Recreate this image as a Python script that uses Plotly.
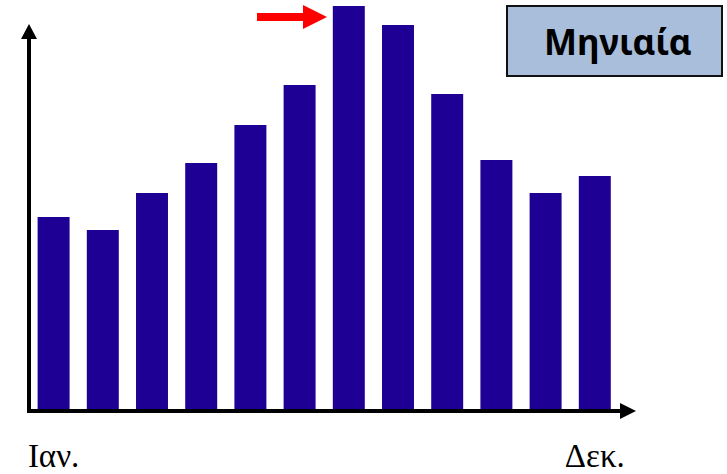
import plotly.graph_objects as go

# Monthly values (arbitrary units), January to December
months = ["Ιαν.", "Φεβ.", "Μαρ.", "Απρ.", "Μάι.", "Ιούν.",
          "Ιούλ.", "Αύγ.", "Σεπ.", "Οκτ.", "Νοέ.", "Δεκ."]
values = [194, 181, 218, 248, 286, 326, 405, 386, 317, 251, 218, 235]
tick_labels = ["Ιαν.", "Δεκ."]
title_text = "Μηνιαία"

W, H = 727, 474
L, T, PW, PH = 29, 0, 607, 411  # plot area in pixels


def px(x):
    return (x - L) / PW


def py(y):
    return (T + PH - y) / PH


fig = go.Figure(go.Bar(
    x=months, y=values,
    marker=dict(color="#1F0094", line=dict(width=0)),
    width=0.65,
))

shapes = []
# y axis with arrowhead
shapes.append(dict(type="line", xref="paper", yref="paper",
                   x0=px(29), y0=py(413), x1=px(29), y1=py(36),
                   line=dict(color="black", width=4)))
shapes.append(dict(type="path", xref="paper", yref="paper",
                   path=f"M {px(21)} {py(39)} L {px(37)} {py(39)} L {px(29)} {py(24)} Z",
                   fillcolor="black", line=dict(width=0)))
# x axis with arrowhead
shapes.append(dict(type="line", xref="paper", yref="paper",
                   x0=px(27), y0=py(411), x1=px(622), y1=py(411),
                   line=dict(color="black", width=4)))
shapes.append(dict(type="path", xref="paper", yref="paper",
                   path=f"M {px(620)} {py(403)} L {px(620)} {py(419)} L {px(636)} {py(411)} Z",
                   fillcolor="black", line=dict(width=0)))
# red pointer towards the peak month
shapes.append(dict(type="rect", xref="paper", yref="paper",
                   x0=px(257), y0=py(21), x1=px(304), y1=py(13),
                   fillcolor="#FF0000", line=dict(width=0)))
shapes.append(dict(type="path", xref="paper", yref="paper",
                   path=f"M {px(303)} {py(5)} L {px(303)} {py(29)} L {px(327)} {py(17)} Z",
                   fillcolor="#FF0000", line=dict(width=0)))
# title box
shapes.append(dict(type="rect", xref="paper", yref="paper",
                   x0=px(507), y0=py(76), x1=px(722), y1=py(6),
                   fillcolor="#A8BEDA", line=dict(color="#111111", width=2)))

fig.update_layout(
    width=W, height=H,
    margin=dict(l=L, r=W - L - PW, t=T, b=H - T - PH),
    paper_bgcolor="white", plot_bgcolor="white",
    showlegend=False,
    bargap=0.35,
    shapes=shapes,
    annotations=[dict(
        text=f"<b>{title_text}</b>", xref="paper", yref="paper",
        x=px(618), y=py(42), xanchor="center", yanchor="middle",
        showarrow=False,
        font=dict(family="Noto Sans", size=35, color="black"),
    )],
    xaxis=dict(
        range=[-0.5, -0.5 + PW / 49.2],
        showline=False, showgrid=False, zeroline=False,
        ticks="", tickmode="array", tickvals=tick_labels, ticktext=tick_labels,
        tickfont=dict(family="Liberation Serif", size=33, color="black"),
        ticklabelstandoff=22,
        automargin=False,
        fixedrange=True,
    ),
    yaxis=dict(
        range=[0, PH], showline=False, showgrid=False, zeroline=False,
        showticklabels=False, ticks="", fixedrange=True, automargin=False,
    ),
)

fig.write_html("out.html")
